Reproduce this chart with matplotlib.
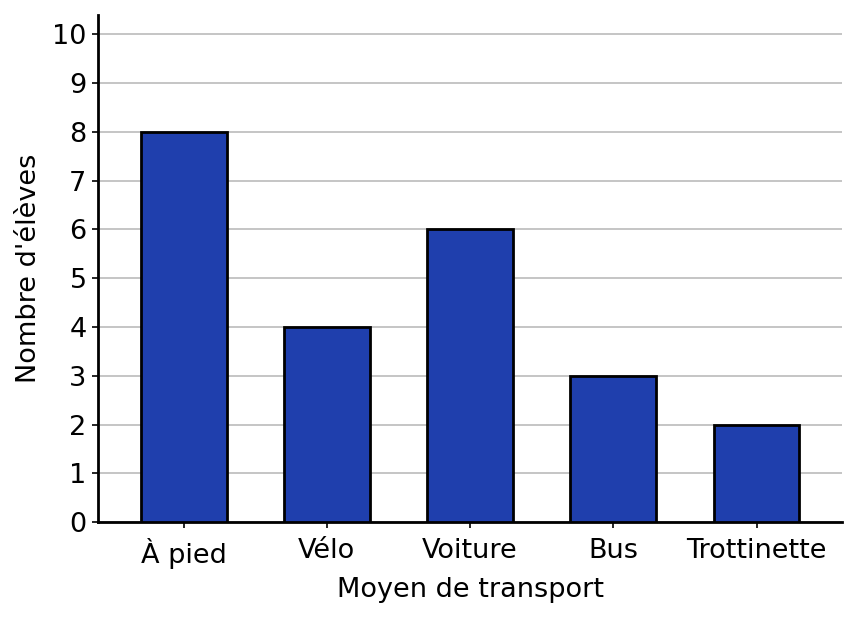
import matplotlib
matplotlib.use("Agg")
import matplotlib.pyplot as plt

# Données
categories = ["À pied", "Vélo", "Voiture", "Bus", "Trottinette"]
eleves = [8, 4, 6, 3, 2]
yticks = list(range(0, 11))

fig, ax = plt.subplots(figsize=(8.57, 6.2), dpi=100)
fig.subplots_adjust(left=0.114, right=0.983, top=0.976, bottom=0.158)

ax.bar(categories, eleves, width=0.6, color="#1f3fad", edgecolor="black",
       linewidth=2, zorder=3)

ax.set_xlim(-0.6, 4.6)
ax.set_ylim(0, 10.4)
ax.set_yticks(yticks)
ax.yaxis.grid(True, color="#c0c0c0", linewidth=1.3, zorder=0)
ax.set_axisbelow(True)

ax.set_xlabel("Moyen de transport", fontsize=19.5, labelpad=6)
ax.set_ylabel("Nombre d'élèves", fontsize=19.5, labelpad=7)
ax.tick_params(labelsize=19.5, width=1.2, length=4.5)
ax.tick_params(axis="x", pad=7)
ax.tick_params(axis="y", pad=3.5)

for s in ["top", "right"]:
    ax.spines[s].set_visible(False)
for s in ["left", "bottom"]:
    ax.spines[s].set_linewidth(2)

fig.savefig("out.png", dpi=100)
